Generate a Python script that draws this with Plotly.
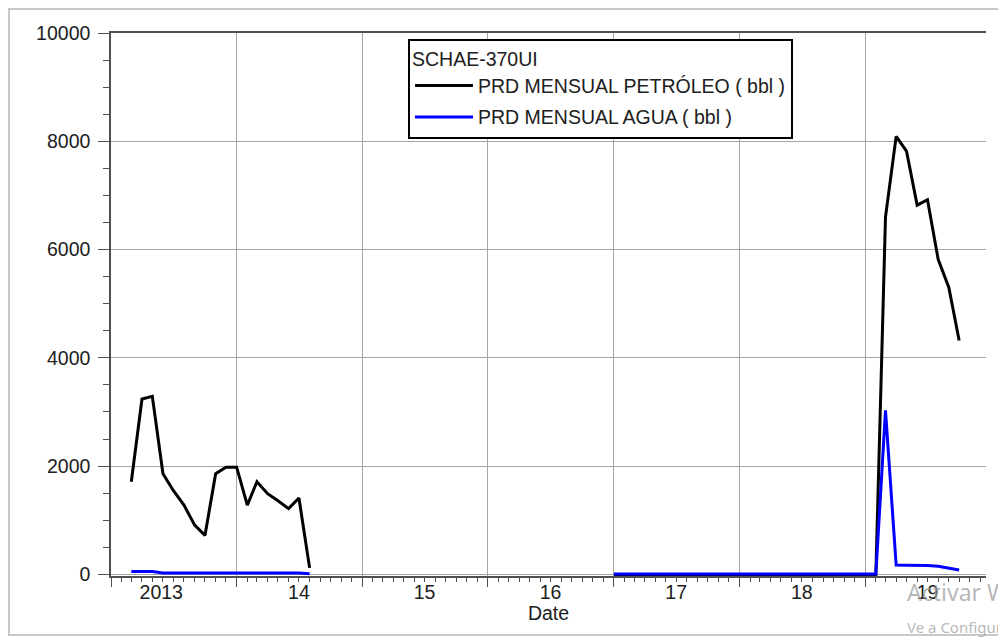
import pandas as pd
import plotly.graph_objects as go

# Monthly production, well SCHAE-370UI
dates_a = pd.date_range("2013-03-01", periods=18, freq="MS")
oil_a = [1710, 3240, 3290, 1860, 1550, 1280, 910, 720, 1860, 1980,
         1980, 1280, 1710, 1490, 1360, 1215, 1410, 120]
water_a = [55, 55, 55, 25, 25, 25, 25, 25, 25, 25,
           25, 25, 25, 25, 25, 25, 25, 10]

# Shut-in period followed by the 2019 restart
dates_b = pd.date_range("2017-01-01", periods=34, freq="MS")
oil_b = [0] * 26 + [6600, 8090, 7820, 6820, 6920, 5820, 5300, 4320]
water_b = [5] * 26 + [3030, 171, 168, 168, 165, 150, 112, 80]

# Year boundaries (grid) and year labels
year_starts = [f"{y}-01-01" for y in range(2013, 2020)]
label_dates = ["2013-05-27", "2014-07-01", "2015-07-01", "2016-07-01",
               "2017-07-01", "2018-07-01", "2019-07-01"]
label_text = ["2013", "14", "15", "16", "17", "18", "19"]

y_ticks = [0, 2000, 4000, 6000, 8000, 10000]

legend_title = "SCHAE-370UI"
oil_name = "PRD MENSUAL PETRÓLEO ( bbl )"
water_name = "PRD MENSUAL AGUA ( bbl )"


def join(*segs):
    xs, ys = [], []
    for d, v in segs:
        if xs:
            xs.append(d[0] - pd.Timedelta(days=15))
            ys.append(None)
        xs.extend(list(d))
        ys.extend(v)
    return xs, ys


ox, oy = join((dates_a, oil_a), (dates_b, oil_b))
wx, wy = join((dates_a, water_a), (dates_b, water_b))

FONT = "Liberation Sans, Arial, sans-serif"
TXT = "#202020"
GRID = "#a6a6a6"
AXIS = "#505050"

fig = go.Figure()
fig.add_trace(go.Scatter(x=ox, y=oy, mode="lines", name=oil_name,
                         line=dict(color="black", width=3),
                         connectgaps=False, legendgroup="oil",
                         xaxis="x", yaxis="y"))
fig.add_trace(go.Scatter(x=wx, y=wy, mode="lines", name=water_name,
                         line=dict(color="#0000ff", width=3),
                         connectgaps=False, legendgroup="water",
                         xaxis="x2", yaxis="y"))

x_range = ["2013-01-01", "2019-12-18"]

fig.update_layout(
    width=998, height=637,
    margin=dict(l=111, r=12, t=33, b=61),
    paper_bgcolor="white", plot_bgcolor="white",
    font=dict(family=FONT, size=19.5, color=TXT),
    showlegend=True,
    legend=dict(
        x=(408 - 111) / 875, y=(576 - 39) / 543,
        xanchor="left", yanchor="top",
        bgcolor="white", bordercolor="black", borderwidth=2,
        title=dict(text=legend_title, font=dict(size=19.5, color=TXT)),
        font=dict(size=19.5, color=TXT),
        itemwidth=58,
        tracegroupgap=3,
    ),
    xaxis=dict(
        type="date", range=x_range,
        tickmode="array", tickvals=year_starts,
        ticktext=[""] * len(year_starts),
        ticks="outside", ticklen=9, tickwidth=1, tickcolor=AXIS,
        showgrid=True, gridcolor=GRID, gridwidth=1,
        showline=True, linecolor=AXIS, linewidth=2, mirror=True,
        zeroline=False, layer="below traces",
        minor=dict(dtick="M1", tick0="2013-01-01", ticks="outside",
                   ticklen=4, tickcolor=AXIS, showgrid=False),
    ),
    xaxis2=dict(
        type="date", overlaying="x", matches="x", anchor="y", side="bottom",
        range=x_range,
        tickmode="array", tickvals=label_dates, ticktext=label_text,
        ticks="", showgrid=False, showline=False, zeroline=False,
        ticklabelstandoff=2,
        tickfont=dict(size=19.5, color=TXT),
        title=dict(text="Date", standoff=0, font=dict(size=19.5, color=TXT)),
    ),
    yaxis=dict(
        range=[-30, 10000],
        tickmode="array", tickvals=y_ticks,
        ticktext=[str(v) for v in y_ticks],
        ticks="outside", ticklen=11, tickwidth=1, tickcolor=AXIS,
        showgrid=True, gridcolor=GRID, gridwidth=1,
        showline=True, linecolor=AXIS, linewidth=1.5,
        zeroline=False, layer="below traces",
        ticklabelstandoff=4,
        tickfont=dict(size=19.5, color=TXT),
        minor=dict(dtick=500, ticks="outside", ticklen=6,
                   tickcolor=AXIS, showgrid=False),
    ),
    shapes=[dict(type="rect", xref="paper", yref="paper",
                 x0=(9 - 111) / 875, x1=(1010 - 111) / 875,
                 y0=(576 - 635) / 543, y1=(576 - 9) / 543,
                 line=dict(color="#c8c8c8", width=2),
                 fillcolor="rgba(0,0,0,0)", layer="below")],
    annotations=[
        dict(text="Activar Windows", xref="paper", yref="paper",
             x=(905 - 111) / 875, y=(576 - 592) / 543,
             xanchor="left", yanchor="middle", showarrow=False,
             font=dict(family="Noto Sans, sans-serif", size=23,
                       color="rgba(160,160,160,0.75)")),
        dict(text="Ve a Configuración para activar Windows.",
             xref="paper", yref="paper",
             x=(905 - 111) / 875, y=(576 - 627) / 543,
             xanchor="left", yanchor="middle", showarrow=False,
             font=dict(family="Noto Sans, sans-serif", size=15,
                       color="rgba(160,160,160,0.75)")),
    ],
)

fig.write_html("out.html")
